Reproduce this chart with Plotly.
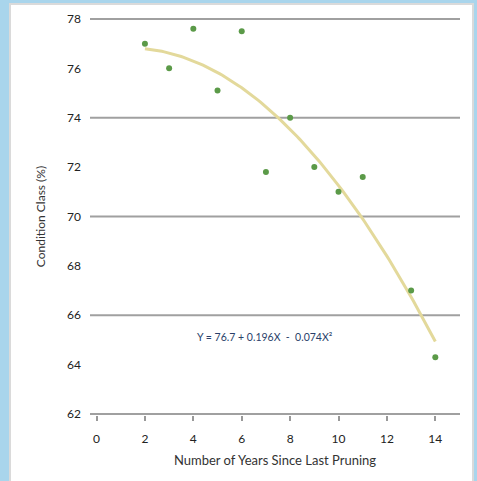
import plotly.graph_objects as go

# Data
years = [2, 3, 4, 5, 6, 7, 8, 9, 10, 11, 13, 14]
condition = [77.0, 76.0, 77.6, 75.1, 77.5, 71.8, 74.0, 72.0, 71.0, 71.6, 67.0, 64.3]
# Trend equation coefficients: Y = a + b*X + c*X^2
coef_a, coef_b, coef_c = 76.7, 0.196, -0.074
trend_x = [2 + i * 0.1 for i in range(121)]
trend_y = [coef_a + coef_b * x + coef_c * x * x for x in trend_x]

y_ticks = [62, 64, 66, 68, 70, 72, 74, 76, 78]
grid_vals = [62, 66, 70, 74, 78]
x_ticks = [0, 2, 4, 6, 8, 10, 12, 14]

font_family = "Lato, 'Liberation Sans', sans-serif"

fig = go.Figure()
fig.add_trace(go.Scatter(x=trend_x, y=trend_y, mode="lines",
                         line=dict(color="#e3d99b", width=3), hoverinfo="skip",
                         showlegend=False))
fig.add_trace(go.Scatter(x=years, y=condition, mode="markers",
                         marker=dict(color="#5b9a48", size=6), showlegend=False))

W, H = 477, 481
L, R, T, B = 90, 17, 18, 66
pw, ph = W - L - R, H - T - B

def px_x(p):
    return (p - L) / pw

def px_y(p):
    return (H - B - p) / ph

y_range = [61.96, 78.04]

shapes = [dict(type="rect", xref="paper", yref="paper", layer="below",
               x0=px_x(10), x1=px_x(473), y0=px_y(490), y1=px_y(4),
               fillcolor="white", line=dict(color="#dadada", width=2))]
for g in grid_vals:
    shapes.append(dict(type="line", xref="paper", yref="y", layer="below",
                       x0=0, x1=1, y0=g, y1=g,
                       line=dict(color="#a0a0a0", width=2)))

fig.update_layout(
    width=W, height=H,
    margin=dict(l=L, r=R, t=T, b=B),
    paper_bgcolor="#a9d5ec",
    plot_bgcolor="rgba(0,0,0,0)",
    font=dict(family=font_family, size=12, color="#333333"),
    xaxis=dict(range=[-0.27, 15.02], tickvals=x_ticks, showgrid=False, zeroline=False,
               showline=False,
               ticks="outside", ticklen=5, tickcolor="#999999", tickwidth=1.5,
               ticklabelstandoff=8,
               tickfont=dict(size=12, color="#222222"),
               title=dict(text="Number of Years Since Last Pruning",
                          font=dict(size=13, color="#333333"), standoff=10)),
    yaxis=dict(range=y_range, tickvals=y_ticks, showgrid=False, zeroline=False,
               showline=False, ticks="", ticklabelstandoff=8,
               tickfont=dict(size=12, color="#222222"),
               title=dict(text="Condition Class (%)",
                          font=dict(size=12, color="#333333"), standoff=18)),
    shapes=shapes,
    annotations=[dict(x=6.96, y=65.1, xref="x", yref="y", showarrow=False,
                      text="Y = 76.7 + 0.196X  -  0.074X²",
                      font=dict(size=10.5, color="#2a3f6a"))],
)

fig.write_html("out.html")
